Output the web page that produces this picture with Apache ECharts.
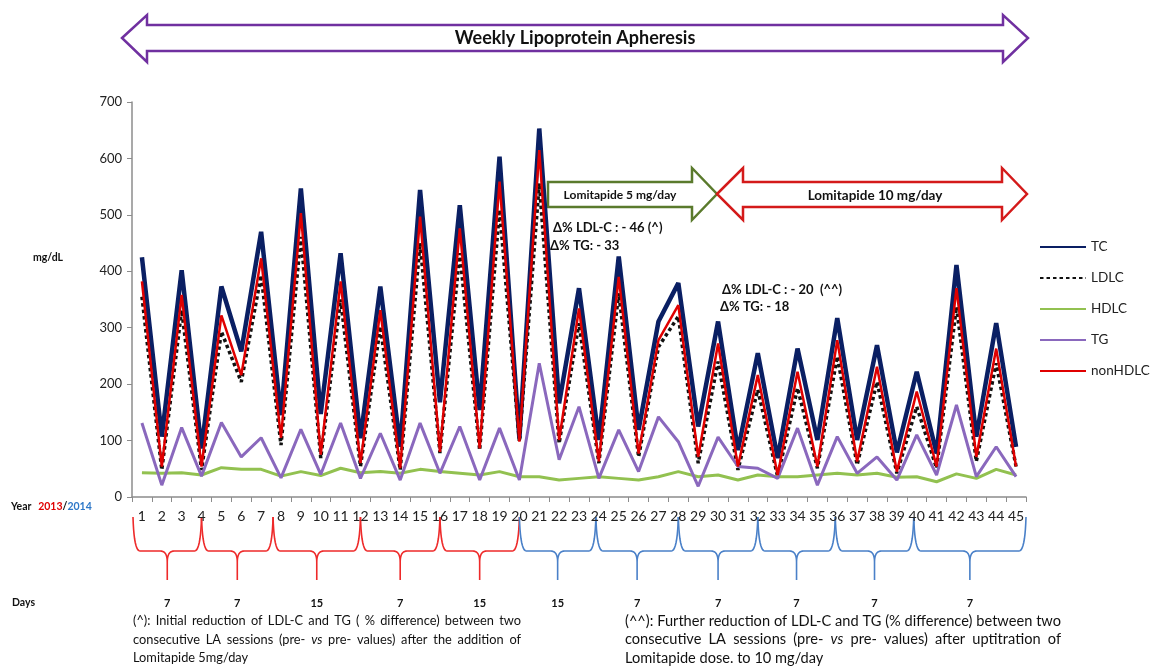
<!DOCTYPE html>
<html lang="en">
<head>
  <meta charset="UTF-8">
  <script src="https://cdn.jsdelivr.net/npm/echarts@6/dist/echarts.min.js"></script>
  <style>
    html, body { margin: 0; padding: 0; background: #fff; }
    #container { width: 1151px; height: 670px; }
  </style>
</head>
<body>
  <div id="container"></div>
  <script>
    // session number 1..45
    var sessions = [];
    for (var i = 1; i <= 45; i++) sessions.push(String(i));

    var yTicks = { min: 0, max: 700, interval: 100 };

    // values in mg/dL
    var TC = [425, 107, 402, 86, 373, 258, 470, 145, 547, 147, 432, 104, 373, 89, 544, 168, 517, 154, 603, 104,
      653, 166, 370, 101, 426, 119, 311, 379, 125, 311, 83, 255, 69, 263, 101, 317, 101, 269, 79, 222,
      77, 411, 107, 308, 89];
    var LDLC = [355, 48, 331, 48, 293, 204, 393, 92, 461, 69, 350, 54, 302, 48, 450, 78, 432, 83, 509, 98,
      556, 95, 308, 60, 361, 71, 266, 320, 60, 240, 48, 190, 36, 193, 51, 249, 57, 204, 42, 160,
      51, 337, 63, 237, 54];
    var HDLC = [43, 42, 43, 39, 52, 49, 49, 37, 45, 38, 51, 43, 45, 42, 49, 45, 42, 39, 45, 36,
      36, 30, 33, 36, 33, 30, 36, 45, 36, 39, 30, 39, 36, 36, 39, 42, 39, 42, 35, 36,
      27, 41, 33, 49, 39];
    var TG = [131, 21, 123, 37, 132, 71, 105, 34, 120, 40, 131, 33, 113, 30, 131, 42, 125, 30, 122, 30,
      237, 66, 160, 33, 119, 45, 142, 98, 19, 106, 54, 51, 33, 122, 21, 107, 42, 71, 30, 110,
      39, 163, 36, 89, 36];
    var nonHDLC = [382, 54, 358, 54, 322, 216, 423, 105, 503, 75, 382, 60, 331, 51, 497, 80, 476, 86, 559, 98,
      615, 101, 334, 63, 390, 77, 278, 340, 71, 272, 54, 216, 39, 222, 54, 278, 63, 231, 45, 187,
      54, 370, 71, 263, 54];

    // intervals under the axis (session positions) and days between
    var redBraces = [[0.55, 4], [4, 7.6], [7.6, 12], [12, 16], [16, 20]];
    var blueBraces = [[20, 23.85], [23.85, 28], [28, 32], [32, 35.9], [35.9, 39.85], [39.85, 45.5]];
    var redDays = ['7', '7', '15', '7', '15'];
    var blueDays = ['15', '7', '7', '7', '7', '7'];

    var noteLeft = [
      '(^): Initial reduction of LDL-C and TG ( % difference) between two',
      'consecutive LA sessions (pre- vs pre- values) after the addition of',
      'Lomitapide 5mg/day'
    ];
    var noteRight = [
      '(^^): Further reduction of LDL-C and TG (% difference) between two',
      'consecutive LA sessions (pre- vs pre- values) after  uptitration of',
      'Lomitapide dose. to 10 mg/day'
    ];

    var FONT = 'Lato, "Open Sans", sans-serif';
    var myChart = echarts.init(document.getElementById('container'));

    function line(name, data, color, width, type) {
      return {
        name: name, type: 'line', data: data, symbol: 'none', silent: true,
        lineStyle: { color: color, width: width, type: type || 'solid' },
        itemStyle: { color: color }
      };
    }

    var option = {
      animation: false,
      grid: { left: 132, right: 125, top: 102, bottom: 173 },
      legend: {
        orient: 'vertical', left: 1034, top: 235,
        itemWidth: 46, itemHeight: 12, itemGap: 17,
        itemStyle: { opacity: 0 },
        textStyle: { fontSize: 13.5, color: '#222', fontFamily: FONT },
        data: ['TC', 'LDLC', 'HDLC', 'TG', 'nonHDLC']
      },
      xAxis: {
        type: 'category', data: sessions, boundaryGap: true,
        axisLine: { lineStyle: { color: '#8c8c8c', width: 1.5 } },
        axisTick: { show: true, interval: 0, length: 5, lineStyle: { color: '#8c8c8c' } },
        axisLabel: { interval: 0, fontSize: 14, color: '#222', margin: 12, fontFamily: FONT }
      },
      yAxis: {
        type: 'value', min: yTicks.min, max: yTicks.max, interval: yTicks.interval,
        splitLine: { show: false },
        axisLine: { show: true, lineStyle: { color: '#8c8c8c', width: 1.5 } },
        axisTick: { show: true, length: 5, lineStyle: { color: '#8c8c8c' } },
        axisLabel: { fontSize: 13, color: '#222', margin: 10, fontFamily: FONT }
      },
      series: [
        line('TC', TC, '#0a1f63', 4.5),
        line('LDLC', LDLC, '#111', 3.5, [3.5, 3]),
        line('HDLC', HDLC, '#92c150', 3),
        line('TG', TG, '#8a68bd', 3),
        line('nonHDLC', nonHDLC, '#e00000', 2.5)
      ]
    };
    myChart.setOption(option);

    var x0 = myChart.convertToPixel({ xAxisIndex: 0 }, 0);
    var x1 = myChart.convertToPixel({ xAxisIndex: 0 }, 44);
    function px(n) { return x0 + (x1 - x0) * (n - 1) / 44; }

    var g = [];

    function txt(x, y, s, size, weight, color, align, style) {
      g.push({
        type: 'text', x: x, y: y, silent: true,
        style: {
          text: s, fontSize: size, fontWeight: weight || 'normal', fontStyle: style || 'normal',
          fontFamily: FONT, fill: color || '#111',
          align: align || 'left', textAlign: align || 'left',
          verticalAlign: 'middle', textVerticalAlign: 'middle'
        }
      });
    }

    // big arrows
    g.push({
      type: 'polygon', silent: true,
      shape: { points: [[122, 38], [147, 15], [147, 25], [1003, 25], [1003, 15], [1028, 38], [1003, 62], [1003, 51], [147, 51], [147, 62]] },
      style: { fill: '#fff', stroke: '#7030a0', lineWidth: 2.5 }
    });
    txt(575, 38, 'Weekly Lipoprotein Apheresis', 18, 'bold', '#111', 'center');

    g.push({
      type: 'polygon', silent: true,
      shape: { points: [[548, 182], [692, 182], [692, 168], [717, 194], [692, 220], [692, 207], [548, 207]] },
      style: { fill: '#fff', stroke: '#5a7a2c', lineWidth: 2.5 }
    });
    txt(620, 195, 'Lomitapide 5 mg/day', 12, 'bold', '#111', 'center');

    g.push({
      type: 'polygon', silent: true,
      shape: { points: [[717, 194], [743, 168], [743, 182], [1002, 182], [1002, 168], [1027, 194], [1002, 220], [1002, 207], [743, 207], [743, 220]] },
      style: { fill: '#fff', stroke: '#d41a1a', lineWidth: 2.5 }
    });
    txt(875, 196, 'Lomitapide 10 mg/day', 13.5, 'bold', '#111', 'center');

    // annotations
    txt(553, 228, 'Δ% LDL-C : - 46 (^)', 13, 'bold');
    txt(550, 246, 'Δ% TG: - 33', 13, 'bold');
    txt(722, 290, 'Δ% LDL-C : - 20  (^^)', 13, 'bold');
    txt(720, 307, 'Δ% TG: - 18', 13, 'bold');

    txt(33, 258, 'mg/dL', 10.5, 'bold');

    g.push({
      type: 'text', x: 11, y: 507, silent: true,
      style: {
        text: '{a|Year}  {r|2013}{a|/}{b|2014}',
        verticalAlign: 'middle', textVerticalAlign: 'middle',
        rich: {
          a: { fontSize: 10.5, fontWeight: 'bold', fontFamily: FONT, fill: '#111', color: '#111' },
          r: { fontSize: 10.5, fontWeight: 'bold', fontFamily: FONT, fill: '#e00000', color: '#e00000' },
          b: { fontSize: 10.5, fontWeight: 'bold', fontFamily: FONT, fill: '#2e78c8', color: '#2e78c8' }
        }
      }
    });
    txt(12, 603, 'Days', 10.5, 'bold');

    // curly braces under the session numbers
    function quad(p0, c, p1, out) {
      for (var t = 0.1; t <= 1.0001; t += 0.1) {
        var a = (1 - t) * (1 - t), b = 2 * (1 - t) * t, d = t * t;
        out.push([a * p0[0] + b * c[0] + d * p1[0], a * p0[1] + b * c[1] + d * p1[1]]);
      }
    }
    function brace(xa, xb, color) {
      var m = (xa + xb) / 2, top = 517, mid = 551, tip = 580, r = 7;
      var pts = [[xa, top]];
      quad([xa, top], [xa + 1, mid], [xa + r, mid], pts);
      pts.push([m - r, mid]);
      quad([m - r, mid], [m, mid], [m, mid + 11], pts);
      pts.push([m, tip]);
      pts.push([m, mid + 11]);
      quad([m, mid + 11], [m, mid], [m + r, mid], pts);
      pts.push([xb - r, mid]);
      quad([xb - r, mid], [xb - 1, mid], [xb, top], pts);
      g.push({
        type: 'polyline', silent: true, shape: { points: pts },
        style: { stroke: color, lineWidth: 1.6, fill: null }
      });
      return m;
    }
    redBraces.forEach(function (b, k) {
      var m = brace(px(b[0]), px(b[1]), '#ee2a2a');
      txt(m, 603, redDays[k], 11, 'bold', '#111', 'center');
    });
    blueBraces.forEach(function (b, k) {
      var m = brace(px(b[0]), px(b[1]), '#4a80c8');
      txt(m, 603, blueDays[k], 11, 'bold', '#111', 'center');
    });

    // justified footnotes
    var ctx = document.createElement('canvas').getContext('2d');
    function measure(w, size) {
      ctx.font = (w === 'vs' ? 'italic ' : '') + size + 'px ' + FONT;
      return ctx.measureText(w).width;
    }
    function paragraph(lines, x, y0, width, size, lh) {
      var sp = measure(' ', size);
      lines.forEach(function (s, li) {
        var y = y0 + li * lh;
        var words = s.split(/ +/);
        var ws = words.map(function (w) { return measure(w, size); });
        var total = ws.reduce(function (a, b) { return a + b; }, 0);
        var gap = (width - total) / (words.length - 1);
        if (li === lines.length - 1 || gap < sp) gap = sp;
        var cx = x;
        words.forEach(function (w, k) {
          txt(cx, y, w, size, 'normal', '#111', 'left', w === 'vs' ? 'italic' : 'normal');
          cx += ws[k] + gap;
        });
      });
    }
    paragraph(noteLeft, 133, 621, 388, 12.8, 18.5);
    paragraph(noteRight, 625, 621, 436, 14.6, 18.5);

    myChart.setOption({ graphic: { elements: g } });
  </script>
</body>
</html>
